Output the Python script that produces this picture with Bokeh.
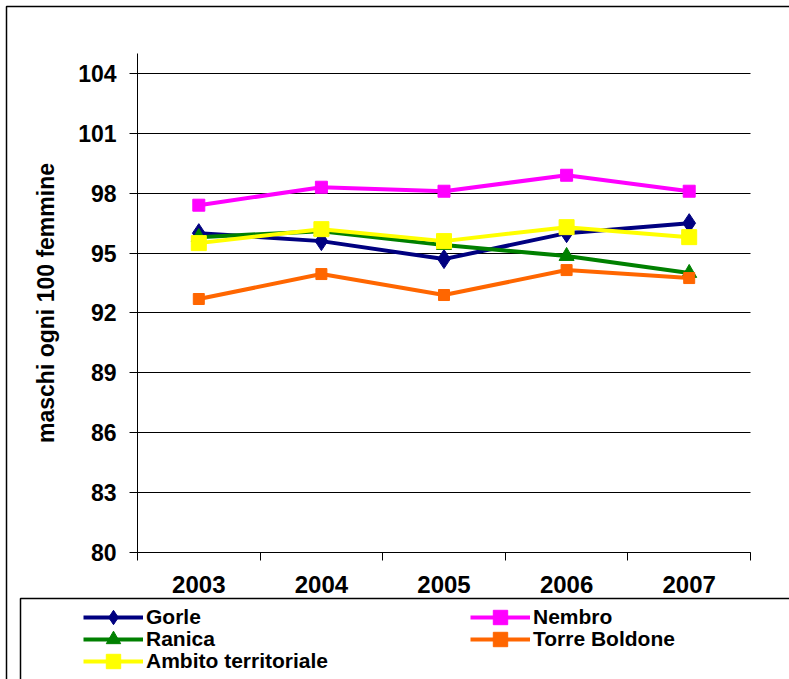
from bokeh.plotting import figure
from bokeh.models import Range1d, FixedTicker, Legend, LegendItem, BoxAnnotation
from bokeh.embed import file_html
from bokeh.resources import INLINE

years = ["2003", "2004", "2005", "2006", "2007"]
gorle = [96.0, 95.6, 94.7, 96.0, 96.5]
nembro = [97.4, 98.3, 98.1, 98.9, 98.1]
ranica = [95.8, 96.1, 95.4, 94.85, 94.0]
torre_boldone = [92.7, 93.95, 92.9, 94.15, 93.75]
ambito = [95.5, 96.2, 95.6, 96.3, 95.8]
y_ticks = [80, 83, 86, 89, 92, 95, 98, 101, 104]

FONT = "Liberation Sans"

W, H = 789, 679
# pixel geometry of the plotting area inside the canvas
PX_L, PX_R, PX_T, PX_B = 137, 750, 53, 552
Y0, Y1 = 80, 105
N = len(years)

xs = [i + 0.5 for i in range(N)]

xu = (PX_R - PX_L) / N
yu = (PX_B - PX_T) / (Y1 - Y0)
x_start = 0 - PX_L / xu
x_end = N + (W - PX_R) / xu
y_end = Y1 + PX_T / yu
y_start = Y0 - (H - PX_B) / yu

p = figure(width=W, height=H, output_backend="svg", toolbar_location=None,
           x_range=Range1d(x_start, x_end), y_range=Range1d(y_start, y_end),
           min_border=0, min_border_left=0, min_border_right=0,
           min_border_top=0, min_border_bottom=0)
p.outline_line_color = None
p.background_fill_color = "white"
p.border_fill_color = "white"

# axes
p.xaxis.fixed_location = Y0
p.xaxis.bounds = (0, N)
p.xaxis.ticker = FixedTicker(ticks=xs, minor_ticks=list(range(N + 1)))
p.xaxis.major_label_overrides = {x: y for x, y in zip(xs, years)}
p.xaxis.major_tick_out = 0
p.xaxis.major_tick_in = 0
p.xaxis.minor_tick_out = 8
p.xaxis.minor_tick_in = 0
p.xaxis.minor_tick_line_color = "black"
p.xaxis.axis_line_color = "black"
p.xaxis.major_label_text_font = FONT
p.xaxis.major_label_text_font_style = "bold"
p.xaxis.major_label_text_font_size = "24px"
p.xaxis.major_label_text_color = "black"
p.xaxis.major_label_standoff = 15

p.yaxis.fixed_location = 0
p.yaxis.bounds = (Y0, Y1)
p.yaxis.ticker = FixedTicker(ticks=y_ticks, minor_ticks=[])
p.yaxis.major_tick_out = 8
p.yaxis.major_tick_in = 0
p.yaxis.major_tick_line_color = "black"
p.yaxis.axis_line_color = "black"
p.yaxis.major_label_text_font = FONT
p.yaxis.major_label_text_font_style = "bold"
p.yaxis.major_label_text_font_size = "23px"
p.yaxis.major_label_text_color = "black"
p.yaxis.major_label_standoff = 13
p.yaxis.axis_label = "maschi ogni 100 femmine"
p.yaxis.axis_label_text_font = FONT
p.yaxis.axis_label_text_font_style = "bold"
p.yaxis.axis_label_text_font_size = "23px"
p.yaxis.axis_label_text_color = "black"
p.yaxis.axis_label_standoff = 16

p.xgrid.grid_line_color = None
p.ygrid.grid_line_color = "black"
p.ygrid.grid_line_width = 1
p.ygrid.cross_bounds = (0, N)

series = [
    ("Gorle", gorle, "#000080", "diamond", 19),
    ("Nembro", nembro, "#FF00FF", "square", 12),
    ("Ranica", ranica, "#008000", "triangle", 15),
    ("Torre Boldone", torre_boldone, "#FF6600", "square", 11),
    ("Ambito territoriale", ambito, "#FFFF00", "square", 15),
]

items = []
for name, vals, color, marker, size in series:
    ln = p.line(xs, vals, line_color=color, line_width=4)
    sc = p.scatter(xs, vals, marker=marker, size=size, fill_color=color,
                   line_color=color)
    items.append(LegendItem(label=name, renderers=[ln, sc]))

# legend laid out as rows of two entries, one legend per row
ROW_CENTERS = [617, 639, 661]
ROW_H = 36
for r, cy in enumerate(ROW_CENTERS):
    row_items = items[2 * r: 2 * r + 2]
    lg = Legend(items=row_items, location=(83, H - (cy + ROW_H / 2)),
                orientation="horizontal", glyph_width=60, glyph_height=ROW_H,
                label_height=22, label_width=324, label_standoff=3,
                spacing=0, padding=0, margin=0, border_line_alpha=0,
                background_fill_alpha=0, label_text_font=FONT,
                label_text_font_style="bold", label_text_font_size="21px",
                label_text_color="black")
    p.add_layout(lg, "center")

# screen units of box annotations are measured from the bottom of the canvas
outer = BoxAnnotation(left=6, top=H - 6, right=W + 50, bottom=-50,
                      left_units="screen", right_units="screen",
                      top_units="screen", bottom_units="screen",
                      fill_alpha=0, line_color="black", line_alpha=1,
                      line_width=1.5)
legend_box = BoxAnnotation(left=20, top=H - 598, right=W + 50, bottom=-50,
                           left_units="screen", right_units="screen",
                           top_units="screen", bottom_units="screen",
                           fill_alpha=0, line_color="black", line_alpha=1,
                           line_width=1.5)
p.add_layout(outer)
p.add_layout(legend_box)

open("out.html", "w").write(file_html(p, INLINE))
